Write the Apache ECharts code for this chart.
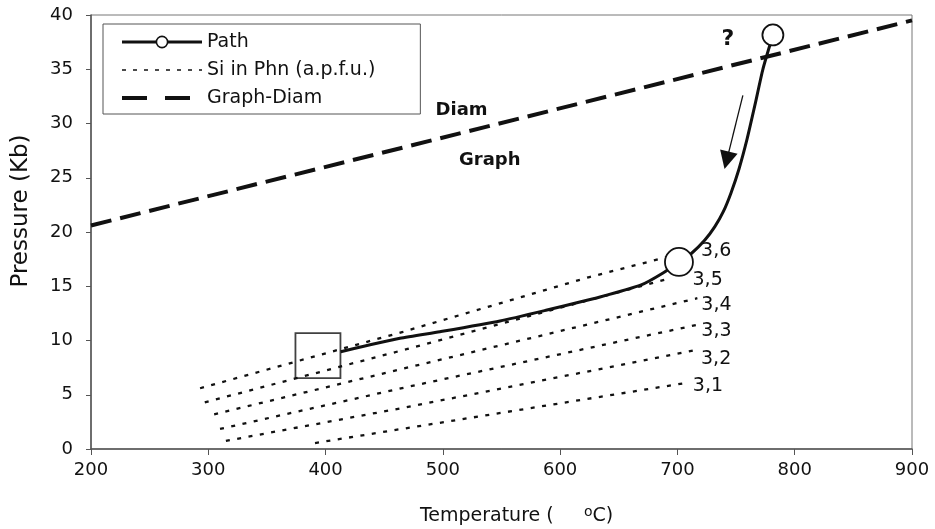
<!DOCTYPE html>
<html>
<head>
<meta charset="utf-8">
<script src="https://cdn.jsdelivr.net/npm/echarts@6/dist/echarts.min.js"></script>
</head>
<body style="margin:0;background:#fff">
<div id="c" style="width:935px;height:529px"></div>
<script>
// ---- data ----
const xTicks = [200, 300, 400, 500, 600, 700, 800, 900];
const yTicks = [0, 5, 10, 15, 20, 25, 30, 35, 40];

const pathT = [412.9, 463.4, 497.5, 548.7, 588.8, 634.0, 669.1, 687.7, 701.3, 712.1, 723.4, 731.9, 739.1, 745.6, 752.5, 759.3, 766.1, 772.9, 781.4];
const pathP = [8.97, 10.20, 10.81, 11.80, 12.81, 14.01, 15.12, 16.22, 17.24, 18.04, 19.26, 20.49, 21.87, 23.58, 25.81, 28.53, 31.71, 35.02, 38.16];
const pathCircles = [[701.3, 17.24], [781.4, 38.16]];
const startSquare = [393.5, 8.6];

const siLabels = ['3,6', '3,5', '3,4', '3,3', '3,2', '3,1'];
const si36 = [[293, 5.6], [466, 10.8], [625, 15.85], [704, 18.05]];
const si35 = [[297, 4.3], [469, 9.2], [689, 15.6]];
const si34 = [[305, 3.2], [466, 7.4], [717, 13.9]];
const si33 = [[310, 1.85], [469, 5.7], [717, 11.45]];
const si32 = [[315, 0.75], [469, 3.85], [715, 9.1]];
const si31 = [[391, 0.55], [465, 1.85], [708, 6.1]];
const siLines = [si36, si35, si34, si33, si32, si31];

const graphDiam = [[200, 20.6], [900, 39.5]];
const arrowFrom = [755.8, 32.6];
const arrowTo = [742.0, 26.6];

const notes = [
  { text: '?', at: [743, 37.8] },
  { text: 'Diam', at: [516, 31.2] },
  { text: 'Graph', at: [540, 26.6] }
];

// ---- styles (not data) ----
const FONT = 'DejaVu Sans';
const INK = '#111';
const labelOffsets = [[19, -2], [28, 0], [4, 7], [4, 6], [6, 9], [6, 3]];
const noteSizes = [22, 18, 18];

const chart = echarts.init(document.getElementById('c'), null, { renderer: 'canvas' });

const pathData = pathT.map((t, i) => {
  const p = pathP[i];
  const ci = pathCircles.findIndex(c => c[0] === t && c[1] === p);
  if (ci === 0) return { value: [t, p], symbol: 'circle', symbolSize: 28 };
  if (ci === 1) return { value: [t, p], symbol: 'circle', symbolSize: 21 };
  return { value: [t, p], symbol: 'none' };
});

const siSeries = siLines.map((pts, k) => ({
  name: 'Si in Phn (a.p.f.u.)',
  type: 'line',
  z: 2,
  symbol: 'none',
  showSymbol: false,
  silent: true,
  lineStyle: { color: INK, width: 2.3, type: [4, 7.5] },
  itemStyle: { color: INK },
  endLabel: {
    show: true,
    formatter: siLabels[k],
    distance: 0,
    offset: labelOffsets[k],
    fontFamily: FONT,
    fontSize: 19,
    color: INK
  },
  data: pts
}));

chart.setOption({
  animation: false,
  backgroundColor: '#fff',
  grid: { left: 91, right: 23, top: 15, bottom: 80, outerBoundsMode: 'none', containLabel: false, show: true, borderColor: '#777', borderWidth: 1, backgroundColor: 'transparent' },
  legend: {
    orient: 'vertical',
    left: 103,
    top: 24,
    backgroundColor: '#fff',
    borderColor: '#555',
    borderWidth: 1,
    borderRadius: 0,
    padding: [8, 45, 6, 17],
    itemWidth: 80,
    itemHeight: 14,
    itemGap: 8,
    textStyle: { fontFamily: FONT, fontSize: 19, color: INK, lineHeight: 20 },
    data: [
      { name: 'Path', lineStyle: { width: 3 }, itemStyle: { color: '#fff', borderColor: INK, borderWidth: 1.6 } },
      { name: 'Si in Phn (a.p.f.u.)', lineStyle: { width: 1.4, type: [4, 7] }, itemStyle: { opacity: 0 } },
      { name: 'Graph-Diam', lineStyle: { width: 4, type: [25, 18] }, itemStyle: { opacity: 0 } }
    ]
  },
  xAxis: {
    type: 'value',
    min: xTicks[0],
    max: xTicks[xTicks.length - 1],
    interval: 100,
    splitLine: { show: false },
    axisLine: { show: true, onZero: false, lineStyle: { color: '#555', width: 1.5 } },
    axisTick: { show: true, length: 6, lineStyle: { color: '#555' } },
    axisLabel: { fontFamily: FONT, fontSize: 18, color: INK, margin: 12 },
    name: 'Temperature (     {s|o}C)',
    nameLocation: 'middle',
    nameGap: 56,
    nameTextStyle: {
      fontFamily: FONT, fontSize: 19, color: INK, padding: [0, 0, 0, 30],
      rich: { s: { fontFamily: FONT, fontSize: 14, color: INK, padding: [0, 0, 9, 0] } }
    }
  },
  yAxis: {
    type: 'value',
    min: yTicks[0],
    max: yTicks[yTicks.length - 1],
    interval: 5,
    splitLine: { show: false },
    axisLine: { show: true, onZero: false, lineStyle: { color: '#555', width: 1.5 } },
    axisTick: { show: true, length: 5, lineStyle: { color: '#555' } },
    axisLabel: { fontFamily: FONT, fontSize: 18, color: INK, margin: 18 },
    name: 'Pressure (Kb)',
    nameLocation: 'middle',
    nameGap: 58,
    nameTextStyle: { fontFamily: FONT, fontSize: 23, color: INK, padding: [0, 0, 0, 42] }
  },
  series: [
    {
      name: 'Graph-Diam',
      type: 'line',
      z: 3,
      symbol: 'none',
      silent: true,
      lineStyle: { color: INK, width: 4, type: [21, 9] },
      itemStyle: { color: INK },
      data: graphDiam,
      markLine: {
        silent: true,
        symbol: ['none', 'triangle'],
        symbolSize: 18,
        label: { show: false },
        itemStyle: { color: INK },
        lineStyle: { color: INK, width: 1.3, type: 'solid' },
        data: [[{ coord: arrowFrom }, { coord: arrowTo }]]
      }
    },
    ...siSeries,
    {
      name: 'Path',
      type: 'line',
      z: 5,
      smooth: 0.2,
      symbol: 'circle',
      symbolSize: 12,
      showAllSymbol: true,
      silent: true,
      lineStyle: { color: INK, width: 3 },
      itemStyle: { color: '#fff', borderColor: INK, borderWidth: 1.8 },
      data: pathData
    },
    {
      name: 'start',
      type: 'scatter',
      z: 4,
      silent: true,
      symbol: 'rect',
      symbolSize: 45,
      itemStyle: { color: 'rgba(0,0,0,0)', borderColor: INK, borderWidth: 1.8 },
      data: [startSquare]
    },
    {
      name: 'notes',
      type: 'scatter',
      z: 6,
      silent: true,
      symbolSize: 0.1,
      itemStyle: { color: INK },
      data: notes.map((n, i) => ({
        value: n.at,
        label: {
          show: true, position: 'inside', formatter: n.text,
          fontFamily: FONT, fontWeight: 'bold', fontSize: noteSizes[i], color: INK,
          opacity: 1, textBorderWidth: 0
        }
      }))
    }
  ]
});
</script>
</body>
</html>
